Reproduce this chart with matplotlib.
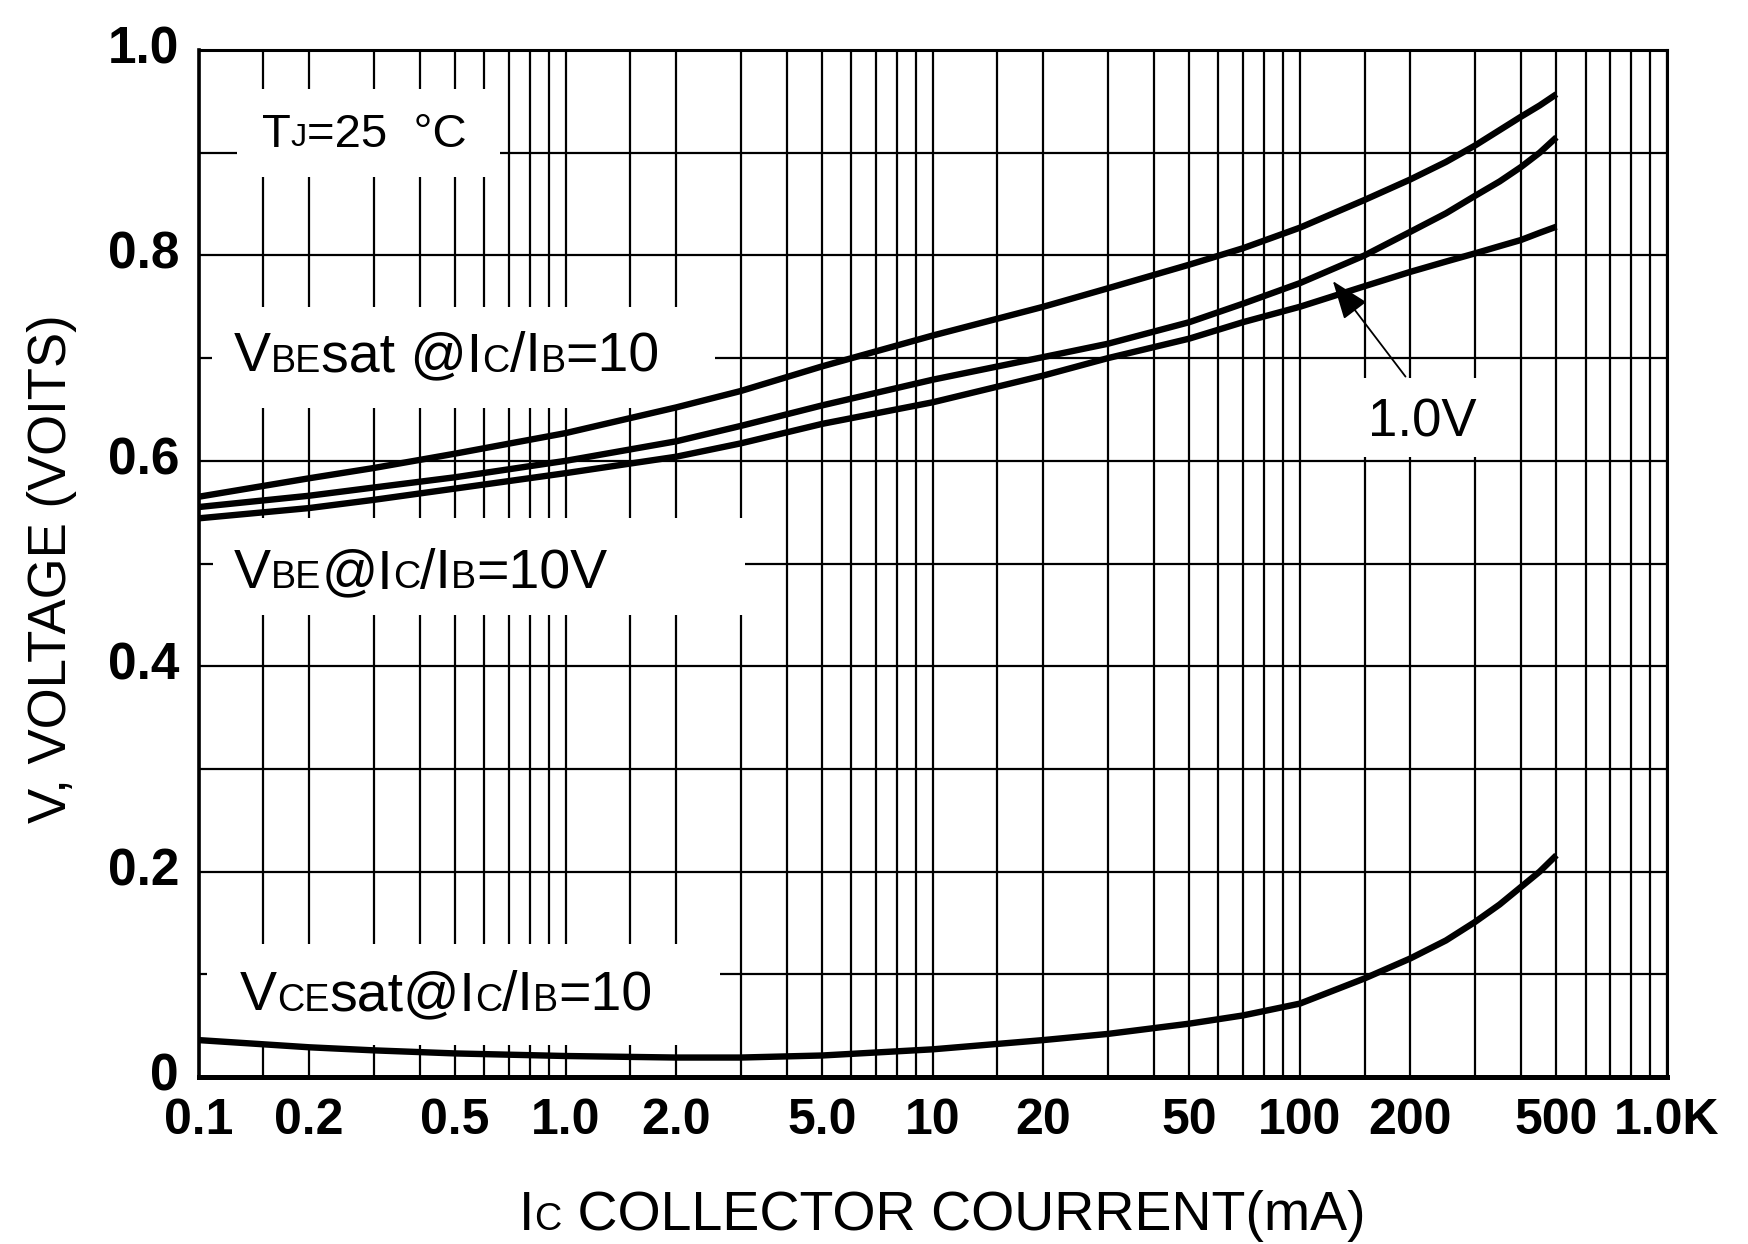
import matplotlib
matplotlib.use("Agg")
import matplotlib.pyplot as plt
from matplotlib.patches import Rectangle

plt.rcParams['font.family'] = ['Liberation Sans', 'DejaVu Sans']

# ---------------- data ----------------
ic_ma = [0.1, 0.2, 0.3, 0.5, 1, 2, 3, 5, 10, 20, 30, 50, 70, 100, 150, 200, 250, 300, 350, 400, 450, 500]
vbe_sat = [0.565, 0.583, 0.593, 0.607, 0.627, 0.652, 0.668, 0.692, 0.722, 0.750, 0.768, 0.791,
           0.807, 0.827, 0.854, 0.874, 0.891, 0.907, 0.922, 0.935, 0.946, 0.957]
vbe_1v = [0.555, 0.566, 0.574, 0.584, 0.600, 0.619, 0.634, 0.654, 0.679, 0.701, 0.714, 0.735,
          0.753, 0.773, 0.800, 0.823, 0.841, 0.858, 0.872, 0.886, 0.900, 0.915]
vbe_10v = [0.544, 0.554, 0.562, 0.573, 0.588, 0.604, 0.617, 0.636, 0.657, 0.683, 0.700, 0.719,
           0.735, 0.750, 0.770, 0.784, 0.794, 0.802, 0.809, 0.815, 0.822, 0.828]
vce_sat = [0.036, 0.029, 0.026, 0.023, 0.0205, 0.019, 0.019, 0.021, 0.027, 0.036, 0.042, 0.052,
           0.060, 0.0715, 0.096, 0.1155, 0.133, 0.151, 0.168, 0.185, 0.200, 0.216]

x_ticks = [0.1, 0.2, 0.5, 1, 2, 5, 10, 20, 50, 100, 200, 500, 1000]
x_tick_labels = ['0.1', '0.2', '0.5', '1.0', '2.0', '5.0', '10', '20', '50', '100', '200', '500', '1.0K']
x_grid_mult = [1.5, 3, 4, 6, 7, 8, 9]
decades = [0.1, 1, 10, 100]
y_ticks = [0, 0.2, 0.4, 0.6, 0.8, 1.0]
y_tick_labels = ['0', '0.2', '0.4', '0.6', '0.8', '1.0']
y_minor = [0.1, 0.3, 0.5, 0.7, 0.9]

# ---------------- figure ----------------
fig = plt.figure(figsize=(17.49, 12.44), dpi=100)
ax = fig.add_axes([0.1135, 0.1342, 0.8396, 0.8256])
ax.set_xscale('log')
ax.set_xlim(0.1, 1000)
ax.set_ylim(0, 1.0)

ax.set_xticks(x_ticks)
ax.set_xticklabels(x_tick_labels)
ax.set_xticks([d * m for d in decades for m in x_grid_mult], minor=True)
ax.xaxis.set_minor_formatter(matplotlib.ticker.NullFormatter())
ax.set_yticks(y_ticks)
ax.set_yticklabels(y_tick_labels)
ax.set_yticks(y_minor, minor=True)

ax.grid(True, which='both', color='black', lw=1.6)
ax.tick_params(which='both', length=0)
ax.tick_params(axis='x', pad=15, labelsize=36)
ax.tick_params(axis='y', pad=14, labelsize=37)
for lab in ax.get_xticklabels() + ax.get_yticklabels():
    lab.set_fontweight('bold')
for lab in ax.get_yticklabels():
    lab.set_verticalalignment('center')

for side, lw in [('left', 2.6), ('bottom', 3.6), ('top', 2.2), ('right', 2.2)]:
    ax.spines[side].set_linewidth(lw)
    ax.spines[side].set_color('black')

# white label areas that interrupt the grid
boxes = [(0.026, 0.876, 0.179, 0.086),
         (0.009, 0.651, 0.343, 0.099),
         (0.010, 0.450, 0.362, 0.094),
         (0.006, 0.031, 0.349, 0.099),
         (0.770, 0.604, 0.116, 0.077)]
for (bx, by, bw, bh) in boxes:
    ax.add_patch(Rectangle((bx, by), bw, bh, transform=ax.transAxes,
                           facecolor='white', edgecolor='none', zorder=1.8))

# curves
for vals in (vbe_sat, vbe_1v, vbe_10v, vce_sat):
    ax.plot(ic_ma, vals, color='black', lw=4.6, solid_capstyle='butt',
            solid_joinstyle='round', zorder=3)

DESC = 0.21


def rich(x, y, parts, size, transform):
    fs0 = size * parts[0][1]
    prev = ax.text(x, y, parts[0][0], transform=transform, fontsize=fs0,
                   va='baseline', ha='left', zorder=4)
    prev_fs = fs0
    for s, sc in parts[1:]:
        fs = size * sc
        dy = DESC * (prev_fs - fs)
        prev = ax.annotate(s, xy=(1, 0), xycoords=prev, xytext=(0, dy),
                           textcoords='offset points', fontsize=fs,
                           va='bottom', ha='left', zorder=4, annotation_clip=False)
        prev_fs = fs
    return prev


SM = 0.68
rich(0.043, 0.906, [('T', 1), ('J', SM), ('=25  °C', 1)], 34, ax.transAxes)
rich(0.0242, 0.687, [('V', 1), ('BE', SM), ('sat @I', 1), ('C', SM), ('/I', 1), ('B', SM), ('=10', 1)],
     40, ax.transAxes)
rich(0.0242, 0.476, [('V', 1), ('BE', SM), ('@I', 1), ('C', SM), ('/I', 1), ('B', SM), ('=10V', 1)],
     40, ax.transAxes)
rich(0.0283, 0.065, [('V', 1), ('CE', SM), ('sat@I', 1), ('C', SM), ('/I', 1), ('B', SM), ('=10', 1)],
     40, ax.transAxes)

ax.text(216, 0.637, '1.0V', fontsize=38, ha='center', va='center', zorder=4)
ax.annotate('', xy=(123, 0.775), xytext=(194, 0.682),
            arrowprops=dict(arrowstyle='-|>,head_length=0.8,head_width=0.3', lw=1.3,
                            color='black', mutation_scale=30, shrinkA=0, shrinkB=0),
            zorder=4)

# axis labels
t0 = fig.text(519 / 1749, 1 - 1230 / 1244, 'I', fontsize=40, va='baseline', ha='left')
t1 = ax.annotate('C', xy=(1, 0), xycoords=t0, xytext=(0, DESC * 40 * (1 - SM)),
                 textcoords='offset points', fontsize=40 * SM, va='bottom', ha='left',
                 annotation_clip=False)
ax.annotate(' COLLECTOR COURRENT(mA)', xy=(1, 0), xycoords=t1,
            xytext=(0, -DESC * 40 * (1 - SM)), textcoords='offset points', fontsize=40,
            va='bottom', ha='left', annotation_clip=False)

fig.text(0.030, 0.5426, 'V, VOLTAGE (VOITS)', fontsize=38, rotation=90,
         ha='center', va='center')

fig.savefig('out.png', dpi=100, facecolor='white')
